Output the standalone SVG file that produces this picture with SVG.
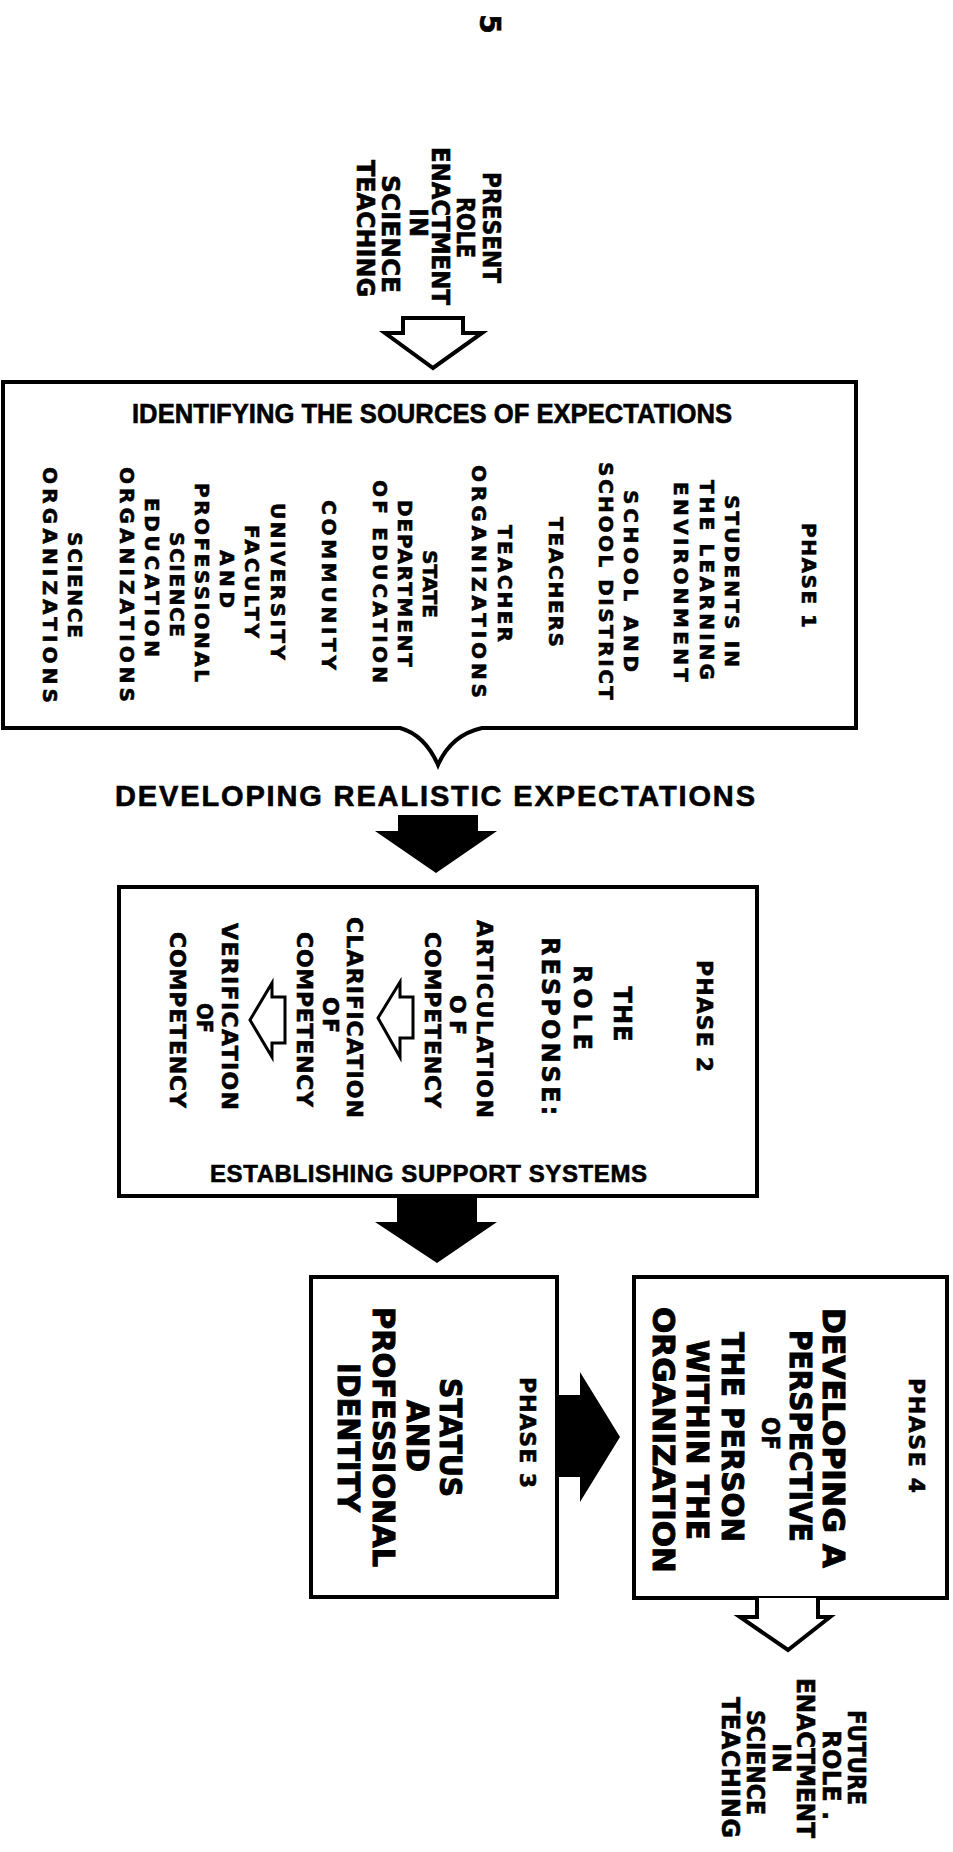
<svg xmlns="http://www.w3.org/2000/svg" width="953" height="1852" viewBox="0 0 953 1852">
<style>
.bg{fill:#fff}
.box{fill:#fff;stroke:#000;stroke-width:4;stroke-linejoin:miter}
.hollow{fill:#fff;stroke:#000;stroke-width:4;stroke-linejoin:miter}
.hollow2{fill:#fff;stroke:#000;stroke-width:3;stroke-linejoin:miter}
.solid{fill:#000;stroke:none}
.t{font-family:"DejaVu Sans","Liberation Sans",Arial,sans-serif;font-weight:bold;fill:#000;text-anchor:middle;stroke:#000;stroke-width:0.6}
.h{font-family:"Liberation Sans",Arial,sans-serif;font-weight:bold;fill:#000;text-anchor:middle;stroke:#000;stroke-width:0.6}
.big{stroke-width:1}
.f20{font-size:20px}
.f22{font-size:22px}
.f24{font-size:24px}
.f28{font-size:28px}
.f29{font-size:29px}
.f31{font-size:31px}
</style>
<rect class="bg" x="0" y="0" width="953" height="1852"/>

<g id="page-number">
<text class="t f28" transform="translate(480,24) rotate(90)">5</text>
</g>

<g id="present-role">
<text class="t f24" transform="translate(483,227.5) rotate(90)" textLength="111" lengthAdjust="spacingAndGlyphs">PRESENT</text>
<text class="t f24" transform="translate(457,227.5) rotate(90)" textLength="61" lengthAdjust="spacingAndGlyphs">ROLE</text>
<text class="t f24" transform="translate(432,226) rotate(90)" textLength="158" lengthAdjust="spacingAndGlyphs">ENACTMENT</text>
<text class="t f24" transform="translate(410,222.5) rotate(90)" textLength="29" lengthAdjust="spacingAndGlyphs">IN</text>
<text class="t f24" transform="translate(382,234) rotate(90)" textLength="118" lengthAdjust="spacingAndGlyphs">SCIENCE</text>
<text class="t f24" transform="translate(357,228.5) rotate(90)" textLength="137" lengthAdjust="spacingAndGlyphs">TEACHING</text>
</g>

<g id="phase1">
<path class="box" d="M3,382 H856 V728 H482 Q451,735 438,765 Q425,735 400,728 H3 Z"/>
<text class="h f28" x="432" y="423" textLength="600" lengthAdjust="spacingAndGlyphs">IDENTIFYING THE SOURCES OF EXPECTATIONS</text>
<text class="t f20" transform="translate(802,575.5) rotate(90)" textLength="105">PHASE 1</text>
<text class="t f20" transform="translate(725,581) rotate(90)" textLength="172">STUDENTS IN</text>
<text class="t f20" transform="translate(700,580) rotate(90)" textLength="200">THE LEARNING</text>
<text class="t f20" transform="translate(674,582) rotate(90)" textLength="200">ENVIRONMENT</text>
<text class="t f20" transform="translate(624,581) rotate(90)" textLength="182">SCHOOL AND</text>
<text class="t f20" transform="translate(599,581) rotate(90)" textLength="238">SCHOOL DISTRICT</text>
<text class="t f20" transform="translate(549,582) rotate(90)" textLength="130">TEACHERS</text>
<text class="t f20" transform="translate(498,583.5) rotate(90)" textLength="117">TEACHER</text>
<text class="t f20" transform="translate(472,581.5) rotate(90)" textLength="233">ORGANIZATIONS</text>
<text class="t f20" transform="translate(423,584) rotate(90)" textLength="68" lengthAdjust="spacingAndGlyphs">STATE</text>
<text class="t f20" transform="translate(398,583.5) rotate(90)" textLength="167">DEPARTMENT</text>
<text class="t f20" transform="translate(373,581.5) rotate(90)" textLength="203">OF EDUCATION</text>
<text class="t f20" transform="translate(322,585) rotate(90)" textLength="170">COMMUNITY</text>
<text class="t f20" transform="translate(271,581.5) rotate(90)" textLength="157">UNIVERSITY</text>
<text class="t f20" transform="translate(245,581.5) rotate(90)" textLength="113">FACULTY</text>
<text class="t f20" transform="translate(220,579) rotate(90)" textLength="58">AND</text>
<text class="t f20" transform="translate(195,582.5) rotate(90)" textLength="199">PROFESSIONAL</text>
<text class="t f20" transform="translate(170,584.5) rotate(90)" textLength="105">SCIENCE</text>
<text class="t f20" transform="translate(145,577.5) rotate(90)" textLength="159">EDUCATION</text>
<text class="t f20" transform="translate(120,584.5) rotate(90)" textLength="235">ORGANIZATIONS</text>
<text class="t f20" transform="translate(68,585) rotate(90)" textLength="106">SCIENCE</text>
<text class="t f20" transform="translate(43,585) rotate(90)" textLength="236">ORGANIZATIONS</text>
</g>

<g id="developing-expectations">
<text class="h f29" x="435" y="806" textLength="640">DEVELOPING REALISTIC EXPECTATIONS</text>
</g>

<g id="phase2">
<rect class="box" x="119" y="887" width="638" height="309"/>
<text class="t f22" transform="translate(697,1016) rotate(90)" textLength="112">PHASE 2</text>
<text class="t f24" transform="translate(614,1014) rotate(90)" textLength="55">THE</text>
<text class="t f24" transform="translate(574,1007.5) rotate(90)" textLength="85">ROLE</text>
<text class="t f24" transform="translate(542,1026) rotate(90)" textLength="178">RESPONSE:</text>
<text class="t f22" transform="translate(477,1019) rotate(90)" textLength="198">ARTICULATION</text>
<text class="t f22" transform="translate(450,1015) rotate(90)" textLength="40">OF</text>
<text class="t f22" transform="translate(425,1020) rotate(90)" textLength="176">COMPETENCY</text>
<path class="hollow2" d="M413,997 H400 V982 L378,1018 L400,1057 V1038 H413 Z"/>
<text class="t f22" transform="translate(347,1017.5) rotate(90)" textLength="201">CLARIFICATION</text>
<text class="t f22" transform="translate(323,1015) rotate(90)" textLength="36">OF</text>
<text class="t f22" transform="translate(297,1019.5) rotate(90)" textLength="175">COMPETENCY</text>
<path class="hollow2" d="M285,997 H272 V983 L250,1020 L272,1057 V1043 H285 Z"/>
<text class="t f22" transform="translate(222,1016.5) rotate(90)" textLength="187">VERIFICATION</text>
<text class="t f22" transform="translate(197,1018) rotate(90)" textLength="30" lengthAdjust="spacingAndGlyphs">OF</text>
<text class="t f22" transform="translate(170,1020) rotate(90)" textLength="176">COMPETENCY</text>
<text class="h f24" x="428.5" y="1182" textLength="437">ESTABLISHING SUPPORT SYSTEMS</text>
</g>

<g id="phase3">
<rect class="box" x="311" y="1277" width="246" height="320"/>
<text class="t f22" transform="translate(520,1432.5) rotate(90)" textLength="111">PHASE 3</text>
<text class="t f31 big" transform="translate(440,1437.5) rotate(90)" textLength="119" lengthAdjust="spacingAndGlyphs">STATUS</text>
<text class="t f31 big" transform="translate(407,1436) rotate(90)" textLength="72" lengthAdjust="spacingAndGlyphs">AND</text>
<text class="t f31 big" transform="translate(373,1437) rotate(90)" textLength="260" lengthAdjust="spacingAndGlyphs">PROFESSIONAL</text>
<text class="t f31 big" transform="translate(338,1437.5) rotate(90)" textLength="149" lengthAdjust="spacingAndGlyphs">IDENTITY</text>
</g>

<g id="phase4">
<rect class="box" x="634" y="1277" width="313" height="321"/>
<text class="t f22" transform="translate(909,1435.5) rotate(90)" textLength="115">PHASE 4</text>
<text class="t f31 big" transform="translate(823,1438) rotate(90)" textLength="260" lengthAdjust="spacingAndGlyphs">DEVELOPING A</text>
<text class="t f31 big" transform="translate(790,1436) rotate(90)" textLength="212" lengthAdjust="spacingAndGlyphs">PERSPECTIVE</text>
<text class="t f24" transform="translate(762,1433.5) rotate(90)" textLength="33" lengthAdjust="spacingAndGlyphs">OF</text>
<text class="t f31 big" transform="translate(722,1437) rotate(90)" textLength="210" lengthAdjust="spacingAndGlyphs">THE PERSON</text>
<text class="t f31 big" transform="translate(687,1440) rotate(90)" textLength="200" lengthAdjust="spacingAndGlyphs">WITHIN THE</text>
<text class="t f31 big" transform="translate(653,1440) rotate(90)" textLength="266" lengthAdjust="spacingAndGlyphs">ORGANIZATION</text>
</g>

<g id="future-role">
<text class="t f24" transform="translate(848,1757.5) rotate(90)" textLength="95" lengthAdjust="spacingAndGlyphs">FUTURE</text>
<text class="t f24" transform="translate(823,1775) rotate(90)" textLength="90">ROLE .</text>
<text class="t f24" transform="translate(797,1758) rotate(90)" textLength="160" lengthAdjust="spacingAndGlyphs">ENACTMENT</text>
<text class="t f24" transform="translate(773,1758) rotate(90)" textLength="30" lengthAdjust="spacingAndGlyphs">IN</text>
<text class="t f24" transform="translate(747,1762.5) rotate(90)" textLength="105" lengthAdjust="spacingAndGlyphs">SCIENCE</text>
<text class="t f24" transform="translate(722,1767.5) rotate(90)" textLength="141">TEACHING</text>
</g>

<g id="connectors">
<path class="hollow" d="M403,318 H463 V333 H482 L433,368 L385,333 H403 Z"/>
<path class="solid" d="M398,815 H478 V831 H497 L436,873 L375,831 H398 Z"/>
<path class="solid" d="M397,1196 H477 V1222 H497 L437,1263 L375,1222 H397 Z"/>
<path class="solid" d="M555,1395 H580 V1372 L620,1437 L580,1502 V1477 H555 Z"/>
<path class="hollow" d="M757,1598 V1617 H740 L788,1650 L830,1617 H818 V1598"/>
</g>
</svg>
